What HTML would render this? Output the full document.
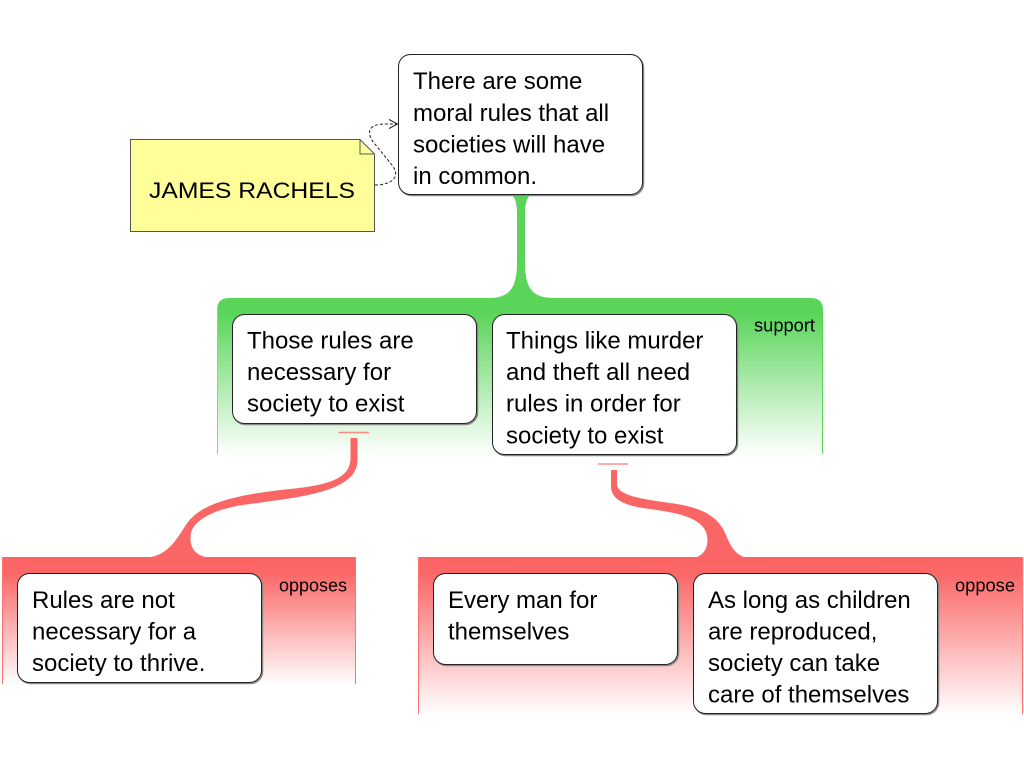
<!DOCTYPE html>
<html>
<head>
<meta charset="utf-8">
<style>
html,body{margin:0;padding:0;background:#fff;}
svg{display:block;}
text{font-family:"Liberation Sans",Arial,sans-serif;fill:#000;}
.t{font-size:24px;}
.s{font-size:18px;}
</style>
</head>
<body>
<svg width="1024" height="768" viewBox="0 0 1024 768" xmlns="http://www.w3.org/2000/svg">
<defs>
  <linearGradient id="gG" x1="0" y1="298" x2="0" y2="455" gradientUnits="userSpaceOnUse">
    <stop offset="0" stop-color="#5ad55a"/>
    <stop offset="0.1" stop-color="#5ad55a"/>
    <stop offset="1" stop-color="#ffffff"/>
  </linearGradient>
  <linearGradient id="gR1" x1="0" y1="557" x2="0" y2="685" gradientUnits="userSpaceOnUse">
    <stop offset="0" stop-color="#fb6464"/>
    <stop offset="0.12" stop-color="#fb6666"/>
    <stop offset="1" stop-color="#ffffff"/>
  </linearGradient>
  <linearGradient id="gR2" x1="0" y1="557" x2="0" y2="715" gradientUnits="userSpaceOnUse">
    <stop offset="0" stop-color="#fb6464"/>
    <stop offset="0.1" stop-color="#fb6666"/>
    <stop offset="1" stop-color="#ffffff"/>
  </linearGradient>
</defs>

<!-- Green panel -->
<path d="M217,455 L217,310 Q217,298 229,298 L811,298 Q823,298 823,310 L823,455 Z" fill="url(#gG)"/>
<line x1="217.5" y1="308" x2="217.5" y2="454" stroke="#7ddc7d" stroke-width="1"/>
<line x1="822.5" y1="308" x2="822.5" y2="454" stroke="#5ad55a" stroke-width="1"/>

<!-- Green stem -->
<path d="M488,298 C510,298 517,288 517,262 L517,215 C517,203 515,197 511,195 L531,195 C527,197 525,203 525,215 L525,262 C525,288 532,298 554,298 Z" fill="#5ad55a"/>

<!-- Red panels -->
<rect x="2" y="557" width="354" height="128" fill="url(#gR1)"/>
<line x1="2.5" y1="557" x2="2.5" y2="684" stroke="#fb7272" stroke-width="1"/>
<line x1="355.5" y1="557" x2="355.5" y2="684" stroke="#fb7272" stroke-width="1"/>
<rect x="418" y="557" width="605" height="158" fill="url(#gR2)"/>
<line x1="418.5" y1="557" x2="418.5" y2="714" stroke="#fb7272" stroke-width="1"/>
<line x1="1022.5" y1="557" x2="1022.5" y2="714" stroke="#fb7272" stroke-width="1"/>

<!-- Red connectors (filled, tapered with flares) -->
<path d="M350.5,438 L350.5,458 C350.5,478 330,485 290,489 C245,494 205,500 188,522 C178,536 170,555 148,557.5 L208,557.5 C193,555 189,545 191,533 C194,520 215,508 250,504 C300,497 357.5,492 357.5,460 L357.5,438 Z" fill="#fa6666"/>
<path d="M611,470 L611,486 C611,500 625,506 650,509 C680,513 700,518 706,532 C710,545 705,555 695,557.5 L746,557.5 C735,555 730,545 726,535 C718,515 700,507 670,503 C640,499 617,495 617,484 L617,470 Z" fill="#fa6666"/>

<!-- ticks -->
<line x1="338.5" y1="432.5" x2="369" y2="432.5" stroke="#f88" stroke-width="1.5"/>
<line x1="598" y1="464" x2="628" y2="464" stroke="#ffaaaa" stroke-width="2"/>

<!-- Note -->
<path d="M130.5,139.5 L360,139.5 L374.5,154 L374.5,231.5 L130.5,231.5 Z" fill="#ffff99" stroke="#555" stroke-width="1"/>
<path d="M360,139.5 L360,154 L374.5,154" fill="none" stroke="#555" stroke-width="1"/>
<text x="149" y="198" font-size="22" textLength="206" lengthAdjust="spacingAndGlyphs">JAMES RACHELS</text>

<!-- dashed link -->
<path d="M375,185 C390,185 402,178 392,165 L374,143 C366,133 368,124 385,124 L397,124" fill="none" stroke="#222" stroke-width="1" stroke-dasharray="3,2"/>
<path d="M389,119.5 L397.5,124 L389,128.5" fill="none" stroke="#222" stroke-width="1"/>

<!-- Boxes -->
<g>
  <rect x="399.5" y="55.5" width="244" height="140" rx="12" fill="none" stroke="#888" stroke-width="1.5"/>
  <rect x="398.5" y="54.5" width="244" height="140" rx="12" fill="#fff" stroke="#222" stroke-width="1"/>
  <text class="t" x="413" y="89">There are some</text>
  <text class="t" x="413" y="121">moral rules that all</text>
  <text class="t" x="413" y="152.5">societies will have</text>
  <text class="t" x="413" y="184">in common.</text>
</g>

<g>
  <rect x="233.5" y="315.5" width="244" height="109" rx="12" fill="none" stroke="#888" stroke-width="1.5"/>
  <rect x="232.5" y="314.5" width="244" height="109" rx="12" fill="#fff" stroke="#222" stroke-width="1"/>
  <text class="t" x="247" y="348.5">Those rules are</text>
  <text class="t" x="247" y="380">necessary for</text>
  <text class="t" x="247" y="411.7">society to exist</text>
</g>

<g>
  <rect x="493.5" y="315.5" width="244" height="140" rx="12" fill="none" stroke="#888" stroke-width="1.5"/>
  <rect x="492.5" y="314.5" width="244" height="140" rx="12" fill="#fff" stroke="#222" stroke-width="1"/>
  <text class="t" x="506" y="348.5">Things like murder</text>
  <text class="t" x="506" y="380">and theft all need</text>
  <text class="t" x="506" y="411.7">rules in order for</text>
  <text class="t" x="506" y="443.4">society to exist</text>
</g>
<text class="s" x="754" y="331.5" textLength="61" lengthAdjust="spacingAndGlyphs">support</text>

<g>
  <rect x="18.5" y="574.5" width="244" height="109" rx="12" fill="none" stroke="#888" stroke-width="1.5"/>
  <rect x="17.5" y="573.5" width="244" height="109" rx="12" fill="#fff" stroke="#222" stroke-width="1"/>
  <text class="t" x="32" y="608">Rules are not</text>
  <text class="t" x="32" y="639.5">necessary for a</text>
  <text class="t" x="32" y="671">society to thrive.</text>
</g>
<text class="s" x="279" y="591.5" textLength="68" lengthAdjust="spacingAndGlyphs">opposes</text>

<g>
  <rect x="434.5" y="574.5" width="244" height="91" rx="12" fill="none" stroke="#888" stroke-width="1.5"/>
  <rect x="433.5" y="573.5" width="244" height="91" rx="12" fill="#fff" stroke="#222" stroke-width="1"/>
  <text class="t" x="448" y="608">Every man for</text>
  <text class="t" x="448" y="639.5">themselves</text>
</g>

<g>
  <rect x="694.5" y="574.5" width="244" height="140" rx="12" fill="none" stroke="#888" stroke-width="1.5"/>
  <rect x="693.5" y="573.5" width="244" height="140" rx="12" fill="#fff" stroke="#222" stroke-width="1"/>
  <text class="t" x="708" y="608">As long as children</text>
  <text class="t" x="708" y="639.5">are reproduced,</text>
  <text class="t" x="708" y="671">society can take</text>
  <text class="t" x="708" y="702.5">care of themselves</text>
</g>
<text class="s" x="955" y="591.5" textLength="60" lengthAdjust="spacingAndGlyphs">oppose</text>
</svg>
</body>
</html>
